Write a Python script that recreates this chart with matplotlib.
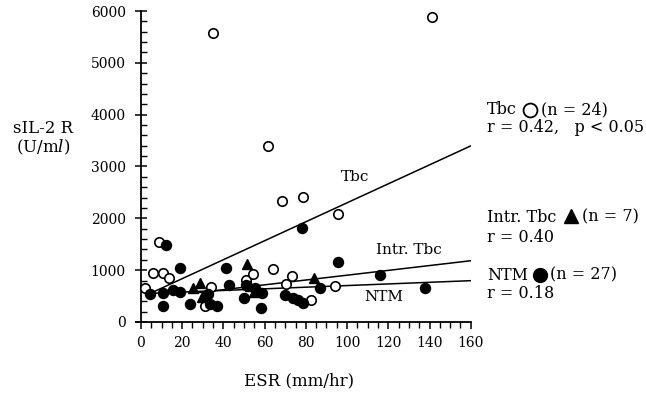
import matplotlib
matplotlib.use('Agg')

import matplotlib.pyplot as plt
import numpy as np
from matplotlib.ticker import MultipleLocator

plt.rcParams['font.family'] = ['DejaVu Serif', 'DejaVu Sans']
plt.rcParams['mathtext.fontset'] = 'custom'
plt.rcParams['mathtext.rm'] = 'DejaVu Serif'
plt.rcParams['mathtext.it'] = 'DejaVu Serif:italic'

# Tbc (open circles)
tbc_esr = [1.9, 6.0, 8.9, 10.5, 13.7, 31, 34, 35.1, 51.2, 54.5, 61.7, 64.2,
           68.2, 70.6, 73.5, 78.7, 82.4, 94.1, 95.7, 141.4]
tbc_il2r = [650, 940, 1550, 950, 855, 310, 670, 5570, 810, 920, 3400, 1017,
            2335, 735, 890, 2420, 425, 695, 2080, 5890]

# Intr. Tbc (triangles)
intr_esr = [25.4, 28.6, 29.5, 51.5, 53, 55, 84]
intr_il2r = [650, 760, 480, 1110, 700, 580, 855]

# NTM (filled circles)
ntm_esr = [4.4, 10.8, 10.8, 12.1, 15.7, 18.9, 18.9, 23.8, 32.6, 33.5, 37,
           41.2, 42.7, 50.1, 51.2, 55.3, 58.2, 58.5, 69.8, 73.8, 76, 77.9,
           78.7, 86.8, 95.7, 115.9, 137.7]
ntm_il2r = [540, 553, 309, 1486, 618, 1048, 585, 341, 540, 347, 309,
            1048, 714, 457, 714, 650, 276, 553, 521, 457, 430, 1820,
            373, 650, 1164, 907, 650]

# regression lines: (x start, x end, intercept, slope)
fit_tbc = (4.4, 160, 470, 18.3)
fit_intr = (25, 160, 438, 4.65)
fit_ntm = (4.4, 160, 546, 1.57)

fig = plt.figure(figsize=(6.46, 4.03), dpi=100)
ax = fig.add_axes([0.2102, 0.201, 0.5186, 0.7717])

for x0, x1, b, m in (fit_tbc, fit_intr, fit_ntm):
    xs = np.array([x0, x1])
    ax.plot(xs, b + m * xs, color='black', lw=1.1, zorder=2)

ax.plot(tbc_esr, tbc_il2r, 'o', ms=6.8, mfc='white', mec='black', mew=1.2,
        zorder=3, clip_on=False)
ax.plot(intr_esr, intr_il2r, '^', ms=7, color='black', zorder=4)
ax.plot(ntm_esr, ntm_il2r, 'o', ms=7.2, color='black', zorder=4)

ax.set_xlim(-2.5, 160)
ax.set_ylim(0, 6000)
ax.spines['top'].set_visible(False)
ax.spines['right'].set_visible(False)
ax.spines['left'].set_position(('data', 0))
ax.spines['left'].set_linewidth(1.3)
ax.spines['bottom'].set_linewidth(1.3)

ax.xaxis.set_major_locator(MultipleLocator(20))
ax.xaxis.set_minor_locator(MultipleLocator(5))
ax.yaxis.set_major_locator(MultipleLocator(1000))
ax.yaxis.set_minor_locator(MultipleLocator(200))
ax.tick_params(axis='x', which='major', direction='out', length=5, width=1.1, labelsize=10, pad=5)
ax.tick_params(axis='x', which='minor', direction='out', length=4, width=1.0)
ax.tick_params(axis='y', which='major', direction='inout', length=8, width=1.1, labelsize=10, pad=7)
ax.tick_params(axis='y', which='minor', direction='in', length=4, width=1.0)

ax.text(104, 2790, 'Tbc', fontsize=11, ha='center', va='center')
ax.text(130, 1390, 'Intr. Tbc', fontsize=11, ha='center', va='center')
ax.text(118, 480, 'NTM', fontsize=11, ha='center', va='center')

fig.text(0.4636, 0.055, 'ESR (mm/hr)', fontsize=12, ha='center', va='center')
fig.text(0.067, 0.682, 'sIL-2 R', fontsize=12, ha='center', va='center')
fig.text(0.067, 0.635, '(U/m$\\it{l}$)', fontsize=12, ha='center', va='center')


def fx(px):
    return px / 646.0


def fy(py):
    return 1 - py / 403.0


fs = 11.5
# right-hand legend: name, marker, count
fig.text(fx(487), fy(110), 'Tbc', fontsize=fs, va='center')
fig.lines.append(plt.Line2D([fx(530)], [fy(110)], marker='o', ms=10, mfc='white',
                            mec='black', mew=1.3, transform=fig.transFigure))
fig.text(fx(541), fy(110), '(n = 24)', fontsize=fs, va='center')
fig.text(fx(487), fy(128), 'r = 0.42,   p < 0.05', fontsize=fs, va='center')

fig.text(fx(487), fy(217), 'Intr. Tbc', fontsize=fs, va='center')
fig.lines.append(plt.Line2D([fx(571)], [fy(216)], marker='^', ms=10, color='black',
                            transform=fig.transFigure))
fig.text(fx(582), fy(217), '(n = 7)', fontsize=fs, va='center')
fig.text(fx(487), fy(237), 'r = 0.40', fontsize=fs, va='center')

fig.text(fx(487), fy(275), 'NTM', fontsize=fs, va='center')
fig.lines.append(plt.Line2D([fx(540)], [fy(275)], marker='o', ms=10, color='black',
                            transform=fig.transFigure))
fig.text(fx(550), fy(275), '(n = 27)', fontsize=fs, va='center')
fig.text(fx(487), fy(294), 'r = 0.18', fontsize=fs, va='center')

fig.savefig('out.png', dpi=100, facecolor='white')
